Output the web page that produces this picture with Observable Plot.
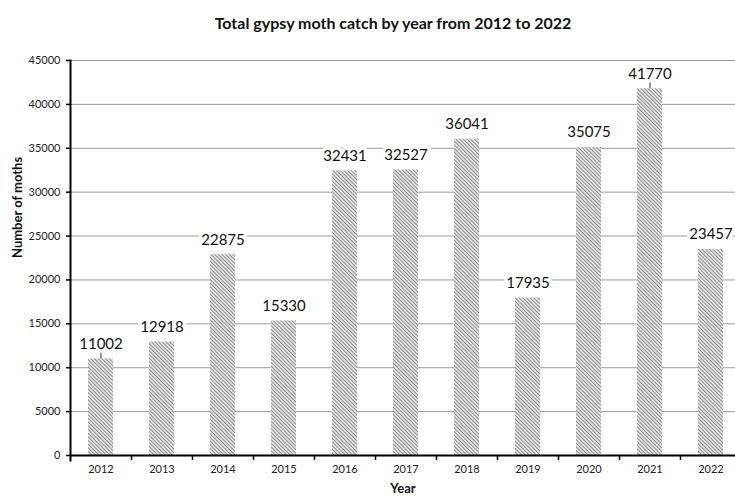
<!DOCTYPE html>
<html><head><meta charset="utf-8">
<script src="https://cdn.jsdelivr.net/npm/d3@7"></script>
<script src="https://cdn.jsdelivr.net/npm/@observablehq/plot@0.6"></script>
<style>
body{margin:0;background:#fff;}
svg{font-family:Lato,"Open Sans",sans-serif;}
</style></head>
<body><div id="chart"></div>
<script>
const years = ["2012","2013","2014","2015","2016","2017","2018","2019","2020","2021","2022"];
const catches = [11002,12918,22875,15330,32431,32527,36041,17935,35075,41770,23457];
const leaderYears = ["2012","2021"];
const yTicks = [0,5000,10000,15000,20000,25000,30000,35000,40000,45000];
const title = "Total gypsy moth catch by year from 2012 to 2022";
const xTitle = "Year";
const yTitle = "Number of moths";

const data = years.map((y,i)=>({year:y, value:catches[i]}));
const step = (741-70)/years.length;

const chart = Plot.plot({
  width:735, height:500,
  marginLeft:70, marginRight:0, marginTop:60, marginBottom:45,
  x:{domain:years, range:[70,741], paddingInner:0.59, paddingOuter:0.295},
  y:{domain:[0,45000]},
  marks:[
    Plot.gridY(yTicks,{stroke:"#9a9a9a", strokeOpacity:1, strokeWidth:1}),
    Plot.barY(data,{x:"year", y:"value", fill:"url(#hatch)"}),
    Plot.ruleX(data.filter(d=>leaderYears.includes(d.year)),{x:"year", y1:"value", y2:"value", insetTop:-6, stroke:"#333", strokeWidth:1}),
    Plot.text(data,{x:"year", y:"value", text:d=>String(d.value), dy:-15, fontSize:15, fill:"#111", stroke:"white", strokeWidth:7, lineAnchor:"middle"}),
    Plot.axisY(yTicks,{tickSize:4, tickPadding:6, fontSize:11, fill:"#222", tickFormat:d=>String(d), label:null, stroke:"black", strokeWidth:1.5}),
    Plot.axisX({tickSize:0, tickPadding:10, fontSize:11, fill:"#222", label:null}),
    Plot.ruleX(years,{x:d=>d, y1:0, y2:0, insetBottom:-5, dx:step/2, stroke:"black", strokeWidth:1.5}),
    Plot.ruleY([0],{stroke:"black", strokeWidth:2}),
    Plot.frame({anchor:"left", stroke:"black", strokeWidth:2, insetBottom:-5}),
    Plot.text([title],{frameAnchor:"top", dy:-43, dx:-10, fontSize:16, fontWeight:"bold", fill:"#111"}),
    Plot.text([xTitle],{frameAnchor:"bottom", dy:37, fontSize:13, fontWeight:"bold", fill:"#111"}),
    Plot.text([yTitle],{frameAnchor:"left", dx:-53, rotate:-90, fontSize:13, fontWeight:"bold", fill:"#111"})
  ]
});

const svg = d3.select(chart);
const defs = svg.insert("defs",":first-child");
const pat = defs.append("pattern").attr("id","hatch").attr("patternUnits","userSpaceOnUse")
  .attr("width",2.6).attr("height",2.6).attr("patternTransform","rotate(-45)");
pat.append("rect").attr("width",2.6).attr("height",2.6).attr("fill","#e2e2e2");
pat.append("line").attr("x1",0).attr("y1",0).attr("x2",0).attr("y2",2.6).attr("stroke","#555").attr("stroke-width",1.1);
document.getElementById("chart").appendChild(chart);
</script></body></html>
